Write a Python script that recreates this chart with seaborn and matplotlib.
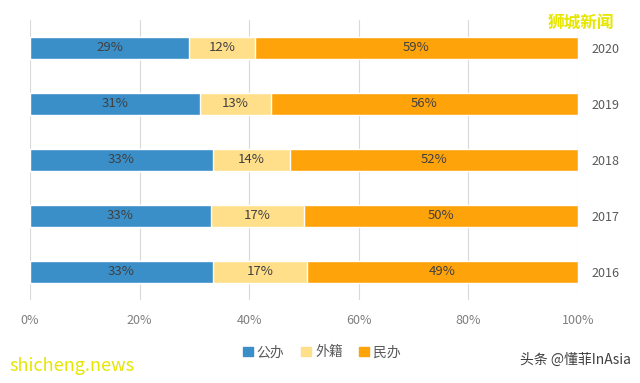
import matplotlib
matplotlib.use("Agg")
import matplotlib.pyplot as plt
import seaborn as sns
import pandas as pd
import numpy as np

years = ["2020", "2019", "2018", "2017", "2016"]
public = [29, 31, 33, 33, 33]
foreign = [12, 13, 14, 17, 17]
private = [59, 56, 52, 50, 49]
series_names = ["公办", "外籍", "民办"]
colors = ["#3A8FC8", "#FFDF8A", "#FFA30A"]
xticks = [0, 20, 40, 60, 80, 100]
xticklabels = ["0%", "20%", "40%", "60%", "80%", "100%"]

sns.set_theme(style="white")
plt.rcParams['font.family'] = ['Noto Sans CJK SC', 'DejaVu Sans']

fig = plt.figure(figsize=(6.4, 3.83), dpi=100)
ax = fig.add_axes([0.047, 0.217, 0.856, 0.731])

df = pd.DataFrame({"year": years, "公办": public, "外籍": foreign, "民办": private})
tot = df[series_names].sum(axis=1)
norm = df[series_names].div(tot, axis=0) * 100

left = np.zeros(len(years))
for k, (name, col) in enumerate(zip(series_names, colors)):
    vals = norm[name].values
    sns.barplot(x=left + vals, y=df["year"], orient="h", color=col, ax=ax,
                width=0.4, zorder=3 - k, saturation=1)
    for i, (l, v, raw) in enumerate(zip(left, vals, df[name].values)):
        ax.text(l + v / 2, i, f"{raw}%", ha="center", va="center",
                fontsize=9.5, color="#404040", zorder=10)
    left = left + vals

if ax.get_legend() is not None:
    ax.get_legend().remove()

ax.set_xlim(0, 100)
ax.set_ylim(4.5, -0.5)
ax.set_xticks(xticks)
ax.set_xticklabels(xticklabels, fontsize=9, color="#7f7f7f")
ax.tick_params(axis="x", length=0, pad=10)
ax.yaxis.tick_right()
ax.set_yticks(range(len(years)))
ax.set_yticklabels(years, fontsize=9, color="#595959")
ax.tick_params(axis="y", length=0, pad=10)
ax.set_xlabel("")
ax.set_ylabel("")
for s in ax.spines.values():
    s.set_visible(False)
ax.grid(axis="x", color="#d9d9d9", linewidth=0.8, zorder=0)
ax.set_axisbelow(True)

handles = [plt.Rectangle((0, 0), 1, 1, color=c) for c in colors]
fig.legend(handles, series_names, loc="center", bbox_to_anchor=(0.503, 0.08),
           ncol=3, frameon=False, fontsize=10, handlelength=0.7, handleheight=0.7,
           handletextpad=0.3, columnspacing=1.2, labelcolor="#595959")

fig.text(0.96, 0.94, "狮城新闻", fontsize=12, color="#E6E600", ha="right",
         va="center", fontweight="bold")
fig.text(0.015, 0.045, "shicheng.news", fontsize=13, color="#E6E600",
         ha="left", va="center")
fig.text(0.985, 0.06, "头条 @懂菲InAsia", fontsize=10, color="#404040",
         ha="right", va="center")

fig.savefig("out.png", dpi=100)
